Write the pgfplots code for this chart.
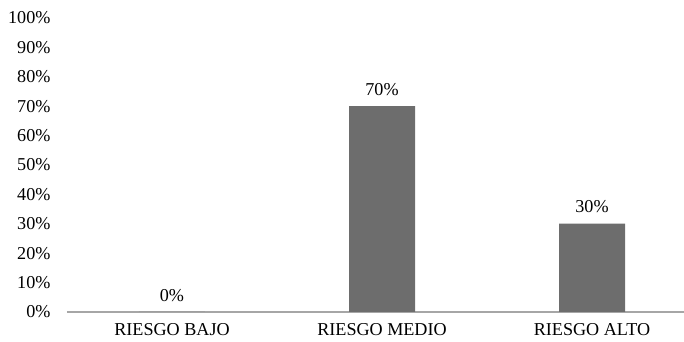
\documentclass[border=0pt]{standalone}
\usepackage{pgfplots}
\pgfplotsset{compat=1.18}
\usepackage{fontspec}
\setmainfont{Liberation Serif}
\definecolor{barc}{RGB}{109,109,109}
\definecolor{axc}{RGB}{166,166,166}
\begin{document}
\begin{tikzpicture}[x=1bp,y=1bp]
\begin{axis}[
  scale only axis,
  width=617bp, height=294bp,
  xmin=-0.5, xmax=2.438,
  ymin=0, ymax=100,
  axis x line=bottom,
  axis y line=left,
  x axis line style={draw=axc, line width=1.3bp, -},
  y axis line style={draw=none},
  xtick={0,1,2},
  xticklabels={RIESGO BAJO, RIESGO MEDIO, RIESGO ALTO},
  major tick length=0pt,
  ytick={0,10,...,100},
  yticklabel={\pgfmathprintnumber{\tick}\%},
  yticklabel style={xshift=-13bp},
  xticklabel style={yshift=-8bp},
  ytick style={draw=none},
  xtick style={draw=none},
  ticklabel style={font=\fontsize{18.2}{20}\selectfont},
  /pgf/number format/assume math mode=true,
  clip=false,
  ybar, bar width=66bp,
  nodes near coords={\pgfmathprintnumber{\pgfplotspointmeta}\%},
  nodes near coords style={font=\fontsize{18.2}{20}\selectfont, text=black, yshift=7bp, /pgf/number format/assume math mode=true},
]
\addplot[fill=barc, draw=none] coordinates {(0,0) (1,70) (2,30)};
\coordinate (bl) at (axis cs:-0.819,-10.2);
\coordinate (tr) at (axis cs:2.438,106.1);
\end{axis}
\pgfresetboundingbox
\path (bl) rectangle (tr);
\end{tikzpicture}
\end{document}
